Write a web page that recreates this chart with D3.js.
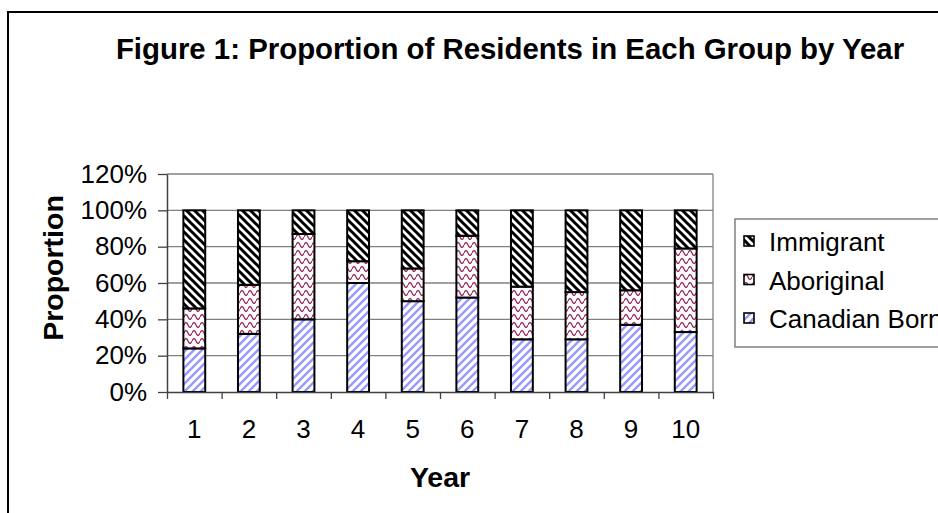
<!DOCTYPE html>
<html>
<head>
<meta charset="utf-8">
<script src="https://cdn.jsdelivr.net/npm/d3@7"></script>
<style>
	body { margin: 0; background: #fff; }
	svg { display: block; font-family: Arial, "Liberation Sans", sans-serif; }
</style>
</head>
<body>
<div id="chart"></div>
<script>
// Proportion of residents per group, by year (values in %)
const years = [1, 2, 3, 4, 5, 6, 7, 8, 9, 10];
const canadianBorn = [24, 32, 40, 60, 50, 52, 29, 29, 37, 33];
const aboriginal = [22, 27, 47, 12, 18, 34, 29, 26, 19, 46];
const immigrant = [54, 41, 13, 28, 32, 14, 42, 45, 44, 21];
const seriesNames = ["Canadian Born", "Aboriginal", "Immigrant"];
const yTicks = [0, 0.2, 0.4, 0.6, 0.8, 1.0, 1.2];

drawChart();

function drawChart() {
	const data = years.map((yr, i) => ({
		year: yr,
		"Canadian Born": canadianBorn[i] / 100,
		"Aboriginal": aboriginal[i] / 100,
		"Immigrant": immigrant[i] / 100
	}));

	const W = 938, H = 513;
	const plot = {left: 167, right: 713, top: 174, bottom: 392};

	const svg = d3.select("#chart")
				  .append("svg")
				  .attr("width", W)
				  .attr("height", H);

	// patterns
	const defs = svg.append("defs");

	const pCan = defs.append("pattern")
					 .attr("id", "pat-can")
					 .attr("patternUnits", "userSpaceOnUse")
					 .attr("width", 8).attr("height", 8);
	pCan.append("rect").attr("width", 8).attr("height", 8).attr("fill", "#fff");
	pCan.append("path")
		.attr("d", "M-2,2 L2,-2 M0,8 L8,0 M6,10 L10,6")
		.attr("stroke", "#9999ff")
		.attr("stroke-width", 2.4);

	const pAbo = defs.append("pattern")
					 .attr("id", "pat-abo")
					 .attr("patternUnits", "userSpaceOnUse")
					 .attr("width", 8).attr("height", 8);
	pAbo.append("rect").attr("width", 8).attr("height", 8).attr("fill", "#fff");
	pAbo.append("path")
		.attr("d", "M0,5 Q2,0 4,5 T8,5")
		.attr("fill", "none")
		.attr("stroke", "#993366")
		.attr("stroke-width", 1.4);

	const pImm = defs.append("pattern")
					 .attr("id", "pat-imm")
					 .attr("patternUnits", "userSpaceOnUse")
					 .attr("width", 8).attr("height", 8);
	pImm.append("rect").attr("width", 8).attr("height", 8).attr("fill", "#fff");
	pImm.append("path")
		.attr("d", "M-2,6 L2,10 M0,0 L8,8 M6,-2 L10,2")
		.attr("stroke", "#000")
		.attr("stroke-width", 3);

	const fills = {
		"Canadian Born": "url(#pat-can)",
		"Aboriginal": "url(#pat-abo)",
		"Immigrant": "url(#pat-imm)"
	};

	// outer chart border (runs off the right and bottom edges)
	svg.append("rect")
	   .attr("x", 8).attr("y", 12)
	   .attr("width", 1000).attr("height", 600)
	   .attr("fill", "none")
	   .attr("stroke", "#000")
	   .attr("stroke-width", 2);

	const x = d3.scaleBand()
				.domain(years)
				.range([plot.left, plot.right])
				.paddingInner(0.6)
				.paddingOuter(0.3);

	const xEdge = d3.scaleLinear()
					.domain([0, years.length])
					.range([plot.left, plot.right]);

	const y = d3.scaleLinear()
				.domain([0, 1.2])
				.range([plot.bottom, plot.top]);

	// gridlines
	svg.append("g")
	   .selectAll("line")
	   .data(yTicks.slice(1))
	   .enter()
	   .append("line")
	   .attr("x1", plot.left).attr("x2", plot.right)
	   .attr("y1", d => y(d)).attr("y2", d => y(d))
	   .attr("stroke", "#808080")
	   .attr("stroke-width", 1.3);

	// plot area border (right side)
	svg.append("line")
	   .attr("x1", plot.right).attr("x2", plot.right)
	   .attr("y1", plot.top).attr("y2", plot.bottom)
	   .attr("stroke", "#808080")
	   .attr("stroke-width", 1.3);

	// stacked bars
	const stacked = d3.stack().keys(seriesNames)(data);

	svg.append("g")
	   .selectAll("g")
	   .data(stacked)
	   .enter()
	   .append("g")
	   .attr("fill", d => fills[d.key])
	   .selectAll("rect")
	   .data(d => d)
	   .enter()
	   .append("rect")
	   .attr("x", d => x(d.data.year))
	   .attr("y", d => y(d[1]))
	   .attr("width", x.bandwidth())
	   .attr("height", d => y(d[0]) - y(d[1]))
	   .attr("stroke", "#000")
	   .attr("stroke-width", 2);

	// y axis
	const yAxis = svg.append("g")
					 .attr("transform", `translate(${plot.left},0)`)
					 .call(d3.axisLeft(y)
							 .tickValues(yTicks)
							 .tickFormat(d3.format(".0%"))
							 .tickSize(9)
							 .tickPadding(11)
							 .tickSizeOuter(0));
	yAxis.select(".domain").attr("stroke", "#404040").attr("stroke-width", 1.5);
	yAxis.selectAll(".tick line").attr("stroke", "#404040").attr("stroke-width", 1.3);
	yAxis.selectAll("text")
		 .style("font-size", "26px")
		 .style("font-family", "Arial, 'Liberation Sans', sans-serif")
		 .attr("fill", "#000");

	// x axis: boundary ticks
	const xTickAxis = svg.append("g")
						 .attr("transform", `translate(0,${plot.bottom})`)
						 .call(d3.axisBottom(xEdge)
								 .ticks(years.length)
								 .tickFormat("")
								 .tickSize(7)
								 .tickSizeOuter(0));
	xTickAxis.select(".domain").attr("stroke", "#404040").attr("stroke-width", 1.5);
	xTickAxis.selectAll(".tick line").attr("stroke", "#404040").attr("stroke-width", 1.3);

	// x axis: category labels
	const xAxis = svg.append("g")
					 .attr("transform", `translate(0,${plot.bottom})`)
					 .call(d3.axisBottom(x).tickSize(0).tickPadding(28));
	xAxis.select(".domain").remove();
	xAxis.selectAll("text")
		 .style("font-size", "26px")
		 .style("font-family", "Arial, 'Liberation Sans', sans-serif")
		 .attr("fill", "#000");

	// title
	svg.append("text")
	   .attr("x", 510)
	   .attr("y", 59)
	   .attr("text-anchor", "middle")
	   .style("font-size", "29.4px")
	   .style("font-weight", "bold")
	   .text("Figure 1: Proportion of Residents in Each Group by Year");

	// axis titles
	svg.append("text")
	   .attr("x", (plot.left + plot.right) / 2)
	   .attr("y", 487)
	   .attr("text-anchor", "middle")
	   .style("font-size", "28.5px")
	   .style("font-weight", "bold")
	   .text("Year");

	svg.append("text")
	   .attr("transform", "translate(63,268) rotate(-90)")
	   .attr("text-anchor", "middle")
	   .style("font-size", "28.5px")
	   .style("font-weight", "bold")
	   .text("Proportion");

	// legend
	const legend = svg.append("g");
	legend.append("rect")
		  .attr("x", 735).attr("y", 219)
		  .attr("width", 260).attr("height", 128)
		  .attr("fill", "#fff")
		  .attr("stroke", "#808080")
		  .attr("stroke-width", 1.5);

	const legendItems = seriesNames.slice().reverse();
	const rowY = d3.scalePoint().domain(legendItems).range([251, 328]);

	const item = legend.selectAll(".item")
					   .data(legendItems)
					   .enter()
					   .append("g")
					   .attr("class", "item");
	item.append("rect")
		.attr("x", 744)
		.attr("y", d => rowY(d) - 15)
		.attr("width", 10).attr("height", 10)
		.attr("fill", d => fills[d])
		.attr("stroke", "#000")
		.attr("stroke-width", 1.6);
	item.append("text")
		.attr("x", 769)
		.attr("y", d => rowY(d))
		.style("font-size", "26px")
		.text(d => d);
}
</script>
</body>
</html>
